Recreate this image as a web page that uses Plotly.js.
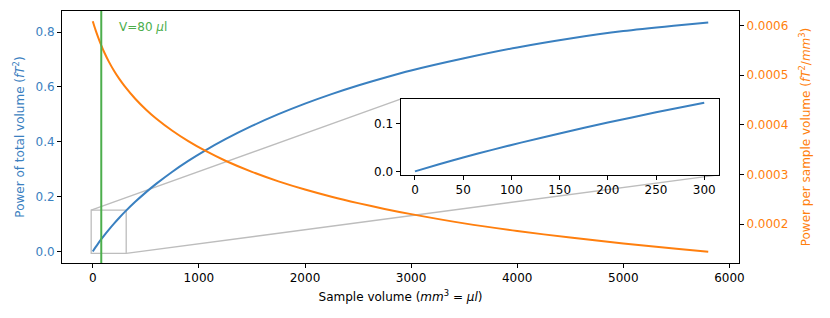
<!DOCTYPE html>
<html>
<head>
<meta charset="utf-8">
<script src="https://cdn.plot.ly/plotly-3.0.1.min.js"></script>
<style>html,body{margin:0;padding:0;background:#fff;}#chart{width:830px;height:318px;}</style>
</head>
<body>
<div id="chart"></div>
<script>
// Sample volume (mm^3 = µl)
const sampleVolume = [0, 25, 50, 80, 110, 150, 200, 250, 300, 400, 500, 600, 750, 900, 1050, 1250, 1500, 1750, 2000, 2250, 2500, 2750, 3000, 3500, 4000, 4500, 5000, 5500, 5800];
// Power of total volume (fT^2)
const totalPower = [0, 0.0148, 0.02885, 0.04482, 0.05999, 0.0792, 0.10182, 0.12315, 0.1434, 0.18104, 0.21555, 0.24738, 0.291, 0.33039, 0.36624, 0.4095, 0.4578, 0.50068, 0.5392, 0.57398, 0.6055, 0.63388, 0.66, 0.70455, 0.744, 0.7767, 0.804, 0.8245, 0.8355];
// Power per sample volume (fT^2 / mm^3)
const powerPerVolume = [0.0006090, 0.0005921, 0.0005770, 0.0005603, 0.0005454, 0.0005280, 0.0005091, 0.0004926, 0.0004780, 0.0004526, 0.0004311, 0.0004123, 0.0003880, 0.0003671, 0.0003488, 0.0003276, 0.0003052, 0.0002861, 0.0002696, 0.0002551, 0.0002422, 0.0002305, 0.0002200, 0.0002013, 0.0001860, 0.0001726, 0.0001608, 0.0001499, 0.00014405];
// Marked sample volume
const markedVolume = 80;
const markedLabel = 'V=80 <i>μ</i>l';
// Zoomed region shown in the inset
const zoomMaxVolume = 300;
const xTickVals = [0, 1000, 2000, 3000, 4000, 5000, 6000];
const leftTickVals = [0, 0.2, 0.4, 0.6, 0.8];
const rightTickVals = [0.0002, 0.0003, 0.0004, 0.0005, 0.0006];
const insetXTickVals = [0, 50, 100, 150, 200, 250, 300];
const insetYTickVals = [0, 0.1];

const BLUE = '#3a80c0';
const ORANGE = '#ff7f0e';
const GREEN = '#4cae4c';
const GRAY = '#bdbdbd';
const FONT = 'DejaVu Sans, Verdana, sans-serif';

const zoomX = [], zoomY = [];
sampleVolume.forEach((v, i) => { if (v <= zoomMaxVolume) { zoomX.push(v); zoomY.push(totalPower[i]); } });

const xRange = [-290, 6090];
const yRange = [-0.042, 0.877];
const y2Range = [0.0001214, 0.0006296];
const insetDomX = [0.5, 0.97];
const insetDomY = [0.35, 0.65];
const insetXRange = [-15, 315];
const insetYRange = [-0.0072, 0.1506];

function px2data(p, r) { return r[0] + p * (r[1] - r[0]); }

const traces = [
  {x: sampleVolume, y: totalPower, type: 'scatter', mode: 'lines', xaxis: 'x', yaxis: 'y',
   line: {color: BLUE, width: 2, shape: 'spline', smoothing: 0.8}, hoverinfo: 'skip'},
  {x: sampleVolume, y: powerPerVolume, type: 'scatter', mode: 'lines', xaxis: 'x', yaxis: 'y2',
   line: {color: ORANGE, width: 2, shape: 'spline', smoothing: 0.8}, hoverinfo: 'skip'},
  {x: zoomX, y: zoomY, type: 'scatter', mode: 'lines', xaxis: 'x2', yaxis: 'y3',
   line: {color: BLUE, width: 2, shape: 'spline', smoothing: 0.8}, hoverinfo: 'skip'}
];

// inset corners expressed in main data coordinates
const inL = px2data(insetDomX[0], xRange), inR = px2data(insetDomX[1], xRange);
const inB = px2data(insetDomY[0], yRange), inT = px2data(insetDomY[1], yRange);

const shapes = [
  {type: 'rect', xref: 'x', yref: 'y', x0: insetXRange[0], x1: insetXRange[1], y0: insetYRange[0], y1: insetYRange[1],
   line: {color: GRAY, width: 1.3}, layer: 'below'},
  {type: 'line', xref: 'x', yref: 'y', x0: insetXRange[0], y0: insetYRange[1], x1: inL, y1: inT,
   line: {color: GRAY, width: 1.3}, layer: 'below'},
  {type: 'line', xref: 'x', yref: 'y', x0: insetXRange[1], y0: insetYRange[0], x1: inR, y1: inB,
   line: {color: GRAY, width: 1.3}, layer: 'below'},
  {type: 'line', xref: 'x', yref: 'paper', x0: markedVolume, x1: markedVolume, y0: 0, y1: 1,
   line: {color: GREEN, width: 2}, layer: 'above'}
];

const axisCommon = {showgrid: false, zeroline: false, showline: true, linecolor: '#000', linewidth: 1,
  ticks: 'outside', ticklen: 4, tickwidth: 1, tickcolor: '#000', fixedrange: true};

const layout = {
  width: 830, height: 318,
  margin: {l: 62, r: 91, t: 11, b: 55, pad: 0},
  paper_bgcolor: '#fff', plot_bgcolor: '#fff',
  showlegend: false,
  font: {family: FONT, size: 12, color: '#000'},
  xaxis: Object.assign({}, axisCommon, {
    domain: [0, 1], anchor: 'y', range: xRange, mirror: true,
    tickvals: xTickVals, ticktext: xTickVals.map(String),
    tickfont: {family: FONT, size: 12, color: '#000'},
    title: {text: 'Sample volume (<i>mm</i><sup>3</sup> = <i>μl</i>)', font: {family: FONT, size: 12, color: '#000'}, standoff: 8},
    automargin: false
  }),
  yaxis: Object.assign({}, axisCommon, {
    domain: [0, 1], anchor: 'x', range: yRange,
    tickvals: leftTickVals, tickformat: '.1f',
    tickfont: {family: FONT, size: 12, color: BLUE},
    title: {text: 'Power of total volume (<i>fT</i><sup>2</sup>)', font: {family: FONT, size: 12, color: BLUE}, standoff: 8},
    automargin: false
  }),
  yaxis2: Object.assign({}, axisCommon, {
    overlaying: 'y', side: 'right', anchor: 'x', range: y2Range,
    tickvals: rightTickVals, tickformat: '.4f',
    tickfont: {family: FONT, size: 12, color: ORANGE},
    title: {text: 'Power per sample volume (<i>fT</i><sup>2</sup>/<i>mm</i><sup>3</sup>)', font: {family: FONT, size: 12, color: ORANGE}, standoff: 14},
    automargin: false
  }),
  xaxis2: Object.assign({}, axisCommon, {
    domain: insetDomX, anchor: 'y3', range: insetXRange, mirror: true,
    tickvals: insetXTickVals, ticktext: insetXTickVals.map(String),
    tickfont: {family: FONT, size: 12, color: '#000'}, automargin: false
  }),
  yaxis3: Object.assign({}, axisCommon, {
    domain: insetDomY, anchor: 'x2', range: insetYRange, mirror: true,
    tickvals: insetYTickVals, tickformat: '.1f',
    tickfont: {family: FONT, size: 12, color: '#000'}, automargin: false
  }),
  shapes: shapes,
  annotations: [
    {xref: 'x', yref: 'y', x: 230, y: 0.82, xanchor: 'left', yanchor: 'middle', showarrow: false,
     text: markedLabel, font: {family: FONT, size: 12, color: GREEN}}
  ]
};

Plotly.newPlot('chart', traces, layout, {staticPlot: true, displayModeBar: false});
</script>
</body>
</html>
